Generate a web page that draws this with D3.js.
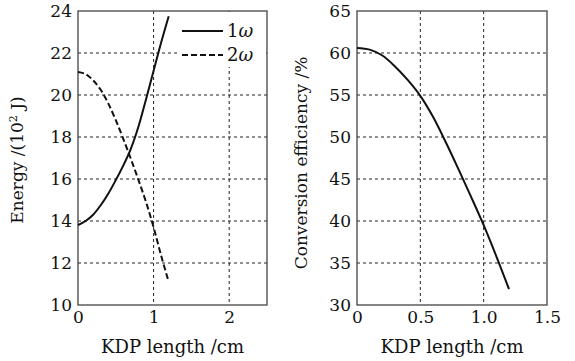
<!DOCTYPE html>
<html>
<head>
<meta charset="utf-8">
<script src="https://cdn.jsdelivr.net/npm/d3@7"></script>
<style>
  body { margin: 0; background: #fff; }
  text { font-family: "DejaVu Serif", serif; fill: #111; }
</style>
</head>
<body>
<svg id="chart" width="575" height="361"></svg>
<script>
// KDP length samples (cm)
var kdpLength = [0, 0.1, 0.2, 0.3, 0.4, 0.5, 0.6, 0.7, 0.8, 0.9, 1.0, 1.1, 1.2];
// energies in 10^2 J
var energy1w = [13.8, 14.0, 14.3, 14.75, 15.3, 15.95, 16.65, 17.45, 18.5, 19.8, 21.15, 22.5, 23.75];
var energy2w = [21.1, 21.0, 20.7, 20.25, 19.6, 18.8, 17.9, 16.95, 15.95, 14.9, 13.7, 12.35, 11.1];
// conversion efficiency %
var efficiency = [60.6, 60.4, 59.7, 58.4, 56.8, 54.9, 52.4, 49.4, 46.2, 42.9, 39.5, 35.8, 31.9];

var leftXTicks = [0, 1, 2];
var leftYTicks = [10, 12, 14, 16, 18, 20, 22, 24];
var rightXTicks = [0, 0.5, 1.0, 1.5];
var rightXLabels = ["0", "0.5", "1.0", "1.5"];
var rightYTicks = [30, 35, 40, 45, 50, 55, 60, 65];

var svg = d3.select("#chart");
var plotTop = 11, plotBottom = 305;

// draws one panel: frame, dashed grid, tick labels
function panel(x0, x1, xDom, yDom, xt, xl, yt) {
  var x = d3.scaleLinear().domain(xDom).range([x0, x1]);
  var y = d3.scaleLinear().domain(yDom).range([plotBottom, plotTop]);
  var g = svg.append("g");

  // grid
  g.selectAll(".gx").data(xt.filter(function(d) { return d > xDom[0] && d < xDom[1]; }))
    .enter().append("line")
    .attr("x1", function(d) { return x(d); }).attr("x2", function(d) { return x(d); })
    .attr("y1", plotTop).attr("y2", plotBottom)
    .attr("stroke", "#222").attr("stroke-width", 1).attr("stroke-dasharray", "3,3");
  g.selectAll(".gy").data(yt.filter(function(d) { return d > yDom[0] && d < yDom[1]; }))
    .enter().append("line")
    .attr("x1", x0).attr("x2", x1)
    .attr("y1", function(d) { return y(d); }).attr("y2", function(d) { return y(d); })
    .attr("stroke", "#222").attr("stroke-width", 1).attr("stroke-dasharray", "3,3");

  // frame
  g.append("rect").attr("x", x0).attr("y", plotTop).attr("width", x1 - x0).attr("height", plotBottom - plotTop)
    .attr("fill", "none").attr("stroke", "#444").attr("stroke-width", 1.3);

  // x axis labels
  var xa = g.append("g").attr("transform", "translate(0," + plotBottom + ")")
    .call(d3.axisBottom(x).tickValues(xt).tickSize(0).tickPadding(6)
      .tickFormat(function(d, i) { return xl ? xl[i] : d; }));
  xa.select(".domain").remove();
  xa.selectAll("text").style("font-size", "17px").style("font-family", "DejaVu Serif").attr("fill", "#111");

  var ya = g.append("g").attr("transform", "translate(" + x0 + ",0)")
    .call(d3.axisLeft(y).tickValues(yt).tickSize(0).tickPadding(6));
  ya.select(".domain").remove();
  ya.selectAll("text").style("font-size", "17px").style("font-family", "DejaVu Serif").attr("fill", "#111");

  g.append("text").attr("x", (x0 + x1) / 2).attr("y", 353)
    .attr("text-anchor", "middle").style("font-size", "18px").text("KDP length /cm");

  return { x: x, y: y, g: g };
}

var L = panel(78, 267, [0, 2.5], [10, 24], leftXTicks, null, leftYTicks);
var R = panel(357, 547, [0, 1.5], [30, 65], rightXTicks, rightXLabels, rightYTicks);

// y titles
svg.append("text").attr("transform", "translate(23,160) rotate(-90)")
  .attr("text-anchor", "middle").style("font-size", "17px")
  .html('Energy /(10<tspan dy="-6" style="font-size:11px">2</tspan><tspan dy="6"> J)</tspan>');
svg.append("text").attr("transform", "translate(307,163) rotate(-90)")
  .attr("text-anchor", "middle").style("font-size", "17px")
  .text("Conversion efficiency /%");

function lineFor(p, vals) {
  return d3.line().x(function(d, i) { return p.x(kdpLength[i]); })
    .y(function(d) { return p.y(d); }).curve(d3.curveCatmullRom)(vals);
}

// legend box
var lg = L.g.append("g");
lg.append("rect").attr("x", 178).attr("y", 12).attr("width", 88).attr("height", 55).attr("fill", "#fff");
[["1", null], ["2", "6,3"]].forEach(function(s, i) {
  var yy = 31 + i * 24;
  lg.append("line").attr("x1", 182).attr("x2", 223).attr("y1", yy).attr("y2", yy)
    .attr("stroke", "#111").attr("stroke-width", 2).attr("stroke-dasharray", s[1]);
  lg.append("text").attr("x", 227).attr("y", yy + 6).style("font-size", "18px")
    .html(s[0] + '<tspan font-style="italic">ω</tspan>');
});

L.g.append("path").attr("d", lineFor(L, energy1w))
  .attr("fill", "none").attr("stroke", "#111").attr("stroke-width", 2);
L.g.append("path").attr("d", lineFor(L, energy2w))
  .attr("fill", "none").attr("stroke", "#111").attr("stroke-width", 2).attr("stroke-dasharray", "6,3");
R.g.append("path").attr("d", lineFor(R, efficiency))
  .attr("fill", "none").attr("stroke", "#111").attr("stroke-width", 2);
</script>
</body>
</html>
